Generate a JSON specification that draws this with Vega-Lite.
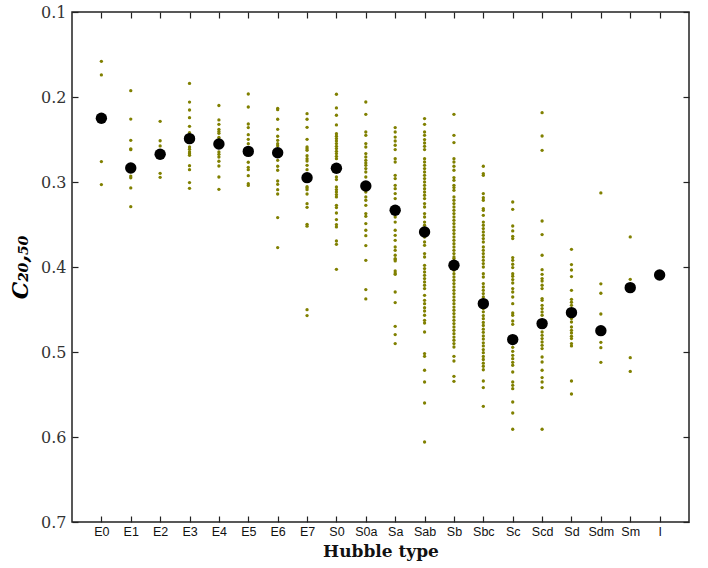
{
"$schema": "https://vega.github.io/schema/vega-lite/v6.json",
"autosize": {"type": "none"},
"padding": {"left": 72, "top": 12, "right": 19, "bottom": 46},
"width": 617,
"height": 510,
"background": "white",
"config": {"view": {"stroke": "#222", "strokeWidth": 1.5}},
"datasets": {
"pts": [
{"t":"E0","c":0.158},{"t":"E0","c":0.174},{"t":"E0","c":0.276},{"t":"E0","c":0.303},
{"t":"E1","c":0.1925},{"t":"E1","c":0.226},{"t":"E1","c":0.251},{"t":"E1","c":0.261},{"t":"E1","c":0.262},{"t":"E1","c":0.293},{"t":"E1","c":0.295},{"t":"E1","c":0.307},{"t":"E1","c":0.329},
{"t":"E2","c":0.2286},{"t":"E2","c":0.2515},{"t":"E2","c":0.2576},{"t":"E2","c":0.2898},{"t":"E2","c":0.2945},
{"t":"E3","c":0.184},{"t":"E3","c":0.206},{"t":"E3","c":0.2153},{"t":"E3","c":0.2243},{"t":"E3","c":0.2345},{"t":"E3","c":0.242},{"t":"E3","c":0.2588},{"t":"E3","c":0.2615},{"t":"E3","c":0.2647},{"t":"E3","c":0.2667},{"t":"E3","c":0.2686},{"t":"E3","c":0.2808},{"t":"E3","c":0.2855},{"t":"E3","c":0.3007},{"t":"E3","c":0.3074},
{"t":"E4","c":0.21},{"t":"E4","c":0.227},{"t":"E4","c":0.2321},{"t":"E4","c":0.238},{"t":"E4","c":0.2405},{"t":"E4","c":0.2427},{"t":"E4","c":0.2474},{"t":"E4","c":0.2501},{"t":"E4","c":0.2647},{"t":"E4","c":0.2674},{"t":"E4","c":0.2706},{"t":"E4","c":0.2756},{"t":"E4","c":0.2812},{"t":"E4","c":0.2941},{"t":"E4","c":0.3086},
{"t":"E5","c":0.1965},{"t":"E5","c":0.2118},{"t":"E5","c":0.2318},{"t":"E5","c":0.236},{"t":"E5","c":0.2443},{"t":"E5","c":0.2498},{"t":"E5","c":0.2549},{"t":"E5","c":0.2768},{"t":"E5","c":0.2827},{"t":"E5","c":0.2855},{"t":"E5","c":0.2925},{"t":"E5","c":0.302},{"t":"E5","c":0.304},
{"t":"E6","c":0.2133},{"t":"E6","c":0.2149},{"t":"E6","c":0.2262},{"t":"E6","c":0.238},{"t":"E6","c":0.2462},{"t":"E6","c":0.251},{"t":"E6","c":0.2549},{"t":"E6","c":0.2573},{"t":"E6","c":0.2745},{"t":"E6","c":0.2815},{"t":"E6","c":0.2862},{"t":"E6","c":0.2988},{"t":"E6","c":0.3027},{"t":"E6","c":0.309},{"t":"E6","c":0.3141},{"t":"E6","c":0.3419},{"t":"E6","c":0.3772},
{"t":"E7","c":0.2196},{"t":"E7","c":0.2262},{"t":"E7","c":0.2357},{"t":"E7","c":0.2498},{"t":"E7","c":0.2588},{"t":"E7","c":0.2608},{"t":"E7","c":0.2627},{"t":"E7","c":0.269},{"t":"E7","c":0.2725},{"t":"E7","c":0.2753},{"t":"E7","c":0.2804},{"t":"E7","c":0.2855},{"t":"E7","c":0.3055},{"t":"E7","c":0.307},{"t":"E7","c":0.309},{"t":"E7","c":0.3141},{"t":"E7","c":0.3255},{"t":"E7","c":0.3298},{"t":"E7","c":0.3498},{"t":"E7","c":0.352},{"t":"E7","c":0.4502},{"t":"E7","c":0.4572},
{"t":"S0","c":0.1968},{"t":"S0","c":0.2129},{"t":"S0","c":0.2215},{"t":"S0","c":0.2329},{"t":"S0","c":0.2431},{"t":"S0","c":0.2462},{"t":"S0","c":0.2489},{"t":"S0","c":0.2518},{"t":"S0","c":0.2548},{"t":"S0","c":0.258},{"t":"S0","c":0.2607},{"t":"S0","c":0.2639},{"t":"S0","c":0.2666},{"t":"S0","c":0.2698},{"t":"S0","c":0.2725},{"t":"S0","c":0.2941},{"t":"S0","c":0.2972},{"t":"S0","c":0.3059},{"t":"S0","c":0.3089},{"t":"S0","c":0.3118},{"t":"S0","c":0.3148},{"t":"S0","c":0.3176},{"t":"S0","c":0.3274},{"t":"S0","c":0.3301},{"t":"S0","c":0.3365},{"t":"S0","c":0.3442},{"t":"S0","c":0.3501},{"t":"S0","c":0.3529},{"t":"S0","c":0.3694},{"t":"S0","c":0.3733},{"t":"S0","c":0.4027},
{"t":"S0a","c":0.2059},{"t":"S0a","c":0.2204},{"t":"S0a","c":0.2412},{"t":"S0a","c":0.2451},{"t":"S0a","c":0.2548},{"t":"S0a","c":0.2588},{"t":"S0a","c":0.2666},{"t":"S0a","c":0.2706},{"t":"S0a","c":0.2745},{"t":"S0a","c":0.2776},{"t":"S0a","c":0.2804},{"t":"S0a","c":0.2842},{"t":"S0a","c":0.2882},{"t":"S0a","c":0.2941},{"t":"S0a","c":0.3118},{"t":"S0a","c":0.3176},{"t":"S0a","c":0.3215},{"t":"S0a","c":0.3274},{"t":"S0a","c":0.3372},{"t":"S0a","c":0.3404},{"t":"S0a","c":0.3489},{"t":"S0a","c":0.3568},{"t":"S0a","c":0.3631},{"t":"S0a","c":0.3748},{"t":"S0a","c":0.3921},{"t":"S0a","c":0.4266},{"t":"S0a","c":0.4376},
{"t":"Sa","c":0.236},{"t":"Sa","c":0.2412},{"t":"Sa","c":0.2471},{"t":"Sa","c":0.2518},{"t":"Sa","c":0.2568},{"t":"Sa","c":0.2619},{"t":"Sa","c":0.2725},{"t":"Sa","c":0.2765},{"t":"Sa","c":0.2921},{"t":"Sa","c":0.296},{"t":"Sa","c":0.3039},{"t":"Sa","c":0.3078},{"t":"Sa","c":0.3136},{"t":"Sa","c":0.3195},{"t":"Sa","c":0.3412},{"t":"Sa","c":0.3471},{"t":"Sa","c":0.3568},{"t":"Sa","c":0.3627},{"t":"Sa","c":0.3686},{"t":"Sa","c":0.3765},{"t":"Sa","c":0.3804},{"t":"Sa","c":0.3862},{"t":"Sa","c":0.3901},{"t":"Sa","c":0.3913},{"t":"Sa","c":0.3929},{"t":"Sa","c":0.4047},{"t":"Sa","c":0.4071},{"t":"Sa","c":0.4086},{"t":"Sa","c":0.4294},{"t":"Sa","c":0.4419},{"t":"Sa","c":0.4698},{"t":"Sa","c":0.4795},{"t":"Sa","c":0.4901},
{"t":"Sab","c":0.2254},{"t":"Sab","c":0.2321},{"t":"Sab","c":0.2412},{"t":"Sab","c":0.2451},{"t":"Sab","c":0.2501},{"t":"Sab","c":0.2541},{"t":"Sab","c":0.258},{"t":"Sab","c":0.2619},{"t":"Sab","c":0.2725},{"t":"Sab","c":0.2765},{"t":"Sab","c":0.2804},{"t":"Sab","c":0.2842},{"t":"Sab","c":0.2882},{"t":"Sab","c":0.2921},{"t":"Sab","c":0.296},{"t":"Sab","c":0.3},{"t":"Sab","c":0.3039},{"t":"Sab","c":0.3078},{"t":"Sab","c":0.3118},{"t":"Sab","c":0.3156},{"t":"Sab","c":0.3195},{"t":"Sab","c":0.3254},{"t":"Sab","c":0.3294},{"t":"Sab","c":0.3372},{"t":"Sab","c":0.3412},{"t":"Sab","c":0.3471},{"t":"Sab","c":0.3509},{"t":"Sab","c":0.3647},{"t":"Sab","c":0.3706},{"t":"Sab","c":0.3745},{"t":"Sab","c":0.3842},{"t":"Sab","c":0.3882},{"t":"Sab","c":0.398},{"t":"Sab","c":0.4019},{"t":"Sab","c":0.4059},{"t":"Sab","c":0.4098},{"t":"Sab","c":0.4136},{"t":"Sab","c":0.4176},{"t":"Sab","c":0.4215},{"t":"Sab","c":0.4254},{"t":"Sab","c":0.4333},{"t":"Sab","c":0.4392},{"t":"Sab","c":0.4431},{"t":"Sab","c":0.4478},{"t":"Sab","c":0.4518},{"t":"Sab","c":0.4568},{"t":"Sab","c":0.4627},{"t":"Sab","c":0.4659},{"t":"Sab","c":0.4765},{"t":"Sab","c":0.5019},{"t":"Sab","c":0.5051},{"t":"Sab","c":0.5215},{"t":"Sab","c":0.5353},{"t":"Sab","c":0.56},{"t":"Sab","c":0.6059},
{"t":"Sb","c":0.2204},{"t":"Sb","c":0.2451},{"t":"Sb","c":0.2536},{"t":"Sb","c":0.2725},{"t":"Sb","c":0.2765},{"t":"Sb","c":0.2815},{"t":"Sb","c":0.2862},{"t":"Sb","c":0.2948},{"t":"Sb","c":0.298},{"t":"Sb","c":0.3039},{"t":"Sb","c":0.3066},{"t":"Sb","c":0.3098},{"t":"Sb","c":0.3176},{"t":"Sb","c":0.3215},{"t":"Sb","c":0.3254},{"t":"Sb","c":0.3294},{"t":"Sb","c":0.3333},{"t":"Sb","c":0.3372},{"t":"Sb","c":0.3412},{"t":"Sb","c":0.3451},{"t":"Sb","c":0.3489},{"t":"Sb","c":0.3529},{"t":"Sb","c":0.3568},{"t":"Sb","c":0.3607},{"t":"Sb","c":0.3647},{"t":"Sb","c":0.3686},{"t":"Sb","c":0.3725},{"t":"Sb","c":0.3765},{"t":"Sb","c":0.3804},{"t":"Sb","c":0.3842},{"t":"Sb","c":0.3882},{"t":"Sb","c":0.3901},{"t":"Sb","c":0.4039},{"t":"Sb","c":0.4078},{"t":"Sb","c":0.4118},{"t":"Sb","c":0.4156},{"t":"Sb","c":0.4195},{"t":"Sb","c":0.4235},{"t":"Sb","c":0.4274},{"t":"Sb","c":0.4313},{"t":"Sb","c":0.4353},{"t":"Sb","c":0.4392},{"t":"Sb","c":0.4431},{"t":"Sb","c":0.4471},{"t":"Sb","c":0.4509},{"t":"Sb","c":0.4548},{"t":"Sb","c":0.4588},{"t":"Sb","c":0.4627},{"t":"Sb","c":0.4666},{"t":"Sb","c":0.4706},{"t":"Sb","c":0.4745},{"t":"Sb","c":0.4784},{"t":"Sb","c":0.4824},{"t":"Sb","c":0.4862},{"t":"Sb","c":0.4901},{"t":"Sb","c":0.4941},{"t":"Sb","c":0.5051},{"t":"Sb","c":0.5106},{"t":"Sb","c":0.5286},{"t":"Sb","c":0.5345},
{"t":"Sbc","c":0.2815},{"t":"Sbc","c":0.2901},{"t":"Sbc","c":0.2921},{"t":"Sbc","c":0.3136},{"t":"Sbc","c":0.3184},{"t":"Sbc","c":0.3215},{"t":"Sbc","c":0.3313},{"t":"Sbc","c":0.3333},{"t":"Sbc","c":0.3392},{"t":"Sbc","c":0.3471},{"t":"Sbc","c":0.3509},{"t":"Sbc","c":0.3548},{"t":"Sbc","c":0.3588},{"t":"Sbc","c":0.3627},{"t":"Sbc","c":0.3666},{"t":"Sbc","c":0.3706},{"t":"Sbc","c":0.3765},{"t":"Sbc","c":0.3804},{"t":"Sbc","c":0.3842},{"t":"Sbc","c":0.3882},{"t":"Sbc","c":0.3921},{"t":"Sbc","c":0.396},{"t":"Sbc","c":0.4},{"t":"Sbc","c":0.4078},{"t":"Sbc","c":0.4118},{"t":"Sbc","c":0.4195},{"t":"Sbc","c":0.4235},{"t":"Sbc","c":0.4274},{"t":"Sbc","c":0.4313},{"t":"Sbc","c":0.4353},{"t":"Sbc","c":0.4392},{"t":"Sbc","c":0.4489},{"t":"Sbc","c":0.4527},{"t":"Sbc","c":0.4572},{"t":"Sbc","c":0.4608},{"t":"Sbc","c":0.4652},{"t":"Sbc","c":0.4688},{"t":"Sbc","c":0.4731},{"t":"Sbc","c":0.4769},{"t":"Sbc","c":0.4812},{"t":"Sbc","c":0.4848},{"t":"Sbc","c":0.4892},{"t":"Sbc","c":0.4929},{"t":"Sbc","c":0.4972},{"t":"Sbc","c":0.5008},{"t":"Sbc","c":0.5052},{"t":"Sbc","c":0.5088},{"t":"Sbc","c":0.5131},{"t":"Sbc","c":0.5168},{"t":"Sbc","c":0.5209},{"t":"Sbc","c":0.5341},{"t":"Sbc","c":0.5419},{"t":"Sbc","c":0.5639},
{"t":"Sc","c":0.3235},{"t":"Sc","c":0.3321},{"t":"Sc","c":0.3518},{"t":"Sc","c":0.3576},{"t":"Sc","c":0.3639},{"t":"Sc","c":0.3666},{"t":"Sc","c":0.3889},{"t":"Sc","c":0.3921},{"t":"Sc","c":0.3968},{"t":"Sc","c":0.4007},{"t":"Sc","c":0.4078},{"t":"Sc","c":0.4109},{"t":"Sc","c":0.4148},{"t":"Sc","c":0.4188},{"t":"Sc","c":0.4254},{"t":"Sc","c":0.4294},{"t":"Sc","c":0.4353},{"t":"Sc","c":0.4431},{"t":"Sc","c":0.4541},{"t":"Sc","c":0.4568},{"t":"Sc","c":0.4635},{"t":"Sc","c":0.4674},{"t":"Sc","c":0.4901},{"t":"Sc","c":0.4945},{"t":"Sc","c":0.4992},{"t":"Sc","c":0.5039},{"t":"Sc","c":0.5078},{"t":"Sc","c":0.5121},{"t":"Sc","c":0.5156},{"t":"Sc","c":0.5235},{"t":"Sc","c":0.5353},{"t":"Sc","c":0.5392},{"t":"Sc","c":0.5431},{"t":"Sc","c":0.5588},{"t":"Sc","c":0.5718},{"t":"Sc","c":0.5909},
{"t":"Scd","c":0.2184},{"t":"Scd","c":0.2459},{"t":"Scd","c":0.2627},{"t":"Scd","c":0.3459},{"t":"Scd","c":0.3619},{"t":"Scd","c":0.3862},{"t":"Scd","c":0.4031},{"t":"Scd","c":0.4086},{"t":"Scd","c":0.4136},{"t":"Scd","c":0.4165},{"t":"Scd","c":0.4215},{"t":"Scd","c":0.4254},{"t":"Scd","c":0.4372},{"t":"Scd","c":0.4392},{"t":"Scd","c":0.4451},{"t":"Scd","c":0.4489},{"t":"Scd","c":0.4529},{"t":"Scd","c":0.4568},{"t":"Scd","c":0.4765},{"t":"Scd","c":0.4804},{"t":"Scd","c":0.4842},{"t":"Scd","c":0.4882},{"t":"Scd","c":0.4921},{"t":"Scd","c":0.496},{"t":"Scd","c":0.5059},{"t":"Scd","c":0.5118},{"t":"Scd","c":0.5215},{"t":"Scd","c":0.5301},{"t":"Scd","c":0.5353},{"t":"Scd","c":0.5419},{"t":"Scd","c":0.5909},
{"t":"Sd","c":0.3792},{"t":"Sd","c":0.3972},{"t":"Sd","c":0.4035},{"t":"Sd","c":0.4113},{"t":"Sd","c":0.4274},{"t":"Sd","c":0.438},{"t":"Sd","c":0.4415},{"t":"Sd","c":0.4451},{"t":"Sd","c":0.4607},{"t":"Sd","c":0.4647},{"t":"Sd","c":0.4706},{"t":"Sd","c":0.4745},{"t":"Sd","c":0.4776},{"t":"Sd","c":0.4815},{"t":"Sd","c":0.4842},{"t":"Sd","c":0.4901},{"t":"Sd","c":0.4929},{"t":"Sd","c":0.5341},{"t":"Sd","c":0.5494},
{"t":"Sdm","c":0.3129},{"t":"Sdm","c":0.4198},{"t":"Sdm","c":0.4309},{"t":"Sdm","c":0.4553},{"t":"Sdm","c":0.4886},{"t":"Sdm","c":0.4949},{"t":"Sdm","c":0.5122},
{"t":"Sm","c":0.3646},{"t":"Sm","c":0.4145},{"t":"Sm","c":0.5067},{"t":"Sm","c":0.5228},
{"t":"I","c":0.4094}
],
"means": [
{"t":"E0","c":0.225},{"t":"E1","c":0.2835},{"t":"E2","c":0.2674},{"t":"E3","c":0.249},{"t":"E4","c":0.2553},{"t":"E5","c":0.264},{"t":"E6","c":0.2655},{"t":"E7","c":0.2949},{"t":"S0","c":0.2839},{"t":"S0a","c":0.3047},{"t":"Sa","c":0.3333},{"t":"Sab","c":0.3588},{"t":"Sb","c":0.398},{"t":"Sbc","c":0.4431},{"t":"Sc","c":0.4854},{"t":"Scd","c":0.4666},{"t":"Sd","c":0.4537},{"t":"Sdm","c":0.4749},{"t":"Sm","c":0.4243},{"t":"I","c":0.4094}
]
},
"layer": [
{
"data": {"name": "pts"},
"mark": {"type": "circle", "size": 11, "color": "#808000", "opacity": 1},
"encoding": {
"x": {"field": "t", "type": "nominal",
"scale": {"type": "point", "padding": 1, "domain": ["E0","E1","E2","E3","E4","E5","E6","E7","S0","S0a","Sa","Sab","Sb","Sbc","Sc","Scd","Sd","Sdm","Sm","I"]},
"axis": {"orient": "bottom", "title": "Hubble type", "labelAngle": 0, "domain": false, "grid": false,
"tickSize": -6, "tickColor": "#222", "tickWidth": 1.2, "labelPadding": 9,
"labelFont": "Liberation Sans", "labelFontSize": 12.5, "labelColor": "#111",
"titleFont": "DejaVu Serif", "titleFontWeight": "bold", "titleFontSize": 17, "titleColor": "#111", "titlePadding": 6}},
"y": {"field": "c", "type": "quantitative",
"scale": {"domain": [0.1, 0.7], "reverse": true, "nice": false, "zero": false},
"axis": {"orient": "left", "title": "C₂₀,₅₀", "values": [0.1,0.2,0.3,0.4,0.5,0.6,0.7], "format": ".1f", "domain": false, "grid": false,
"tickSize": -6, "tickColor": "#222", "tickWidth": 1.2, "labelPadding": 12,
"labelFont": "DejaVu Serif", "labelFontSize": 16, "labelColor": "#333",
"titleFont": "DejaVu Serif", "titleFontStyle": "italic", "titleFontWeight": "bold", "titleFontSize": 22, "titleColor": "#000", "titlePadding": 8}}
}
},
{
"data": {"name": "means"},
"mark": {"type": "circle", "size": 130, "color": "#000", "opacity": 1},
"encoding": {
"x": {"field": "t", "type": "nominal",
"axis": {"orient": "top", "title": null, "labels": false, "domain": false, "grid": false, "tickSize": -6, "tickColor": "#222", "tickWidth": 1.2}},
"y": {"field": "c", "type": "quantitative",
"axis": {"orient": "right", "title": null, "labels": false, "domain": false, "grid": false, "values": [0.1,0.2,0.3,0.4,0.5,0.6,0.7], "tickSize": -6, "tickColor": "#222", "tickWidth": 1.2}}
}
}
],
"resolve": {"axis": {"x": "independent", "y": "independent"}}
}
